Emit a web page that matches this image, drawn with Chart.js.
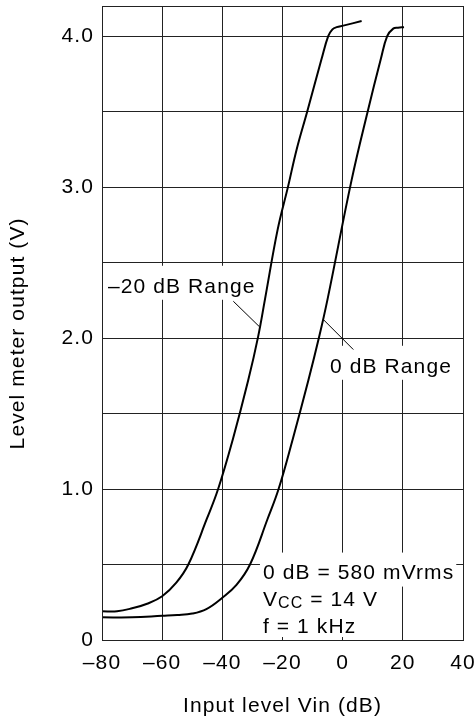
<!DOCTYPE html>
<html><head><meta charset="utf-8">
<script src="https://cdn.jsdelivr.net/npm/chart.js@4"></script>
<style>html,body{margin:0;padding:0;background:#fff;}</style>
</head><body>
<canvas id="c" width="475" height="722"></canvas>
<script>
// ---- data ----
const range20dB_x = [-80,-75,-70,-65,-60,-55.3,-51.3,-45.2,-41.4,-36.5,-31.4,-28.1,-25.8,-21.6,-18.2,-15.3,-11.8,-7.0,-4.8,-3.4,-2.0,0.2,6.3];
const range20dB_v = [0.19,0.19,0.21,0.24,0.29,0.38,0.50,0.80,1.00,1.33,1.72,2.01,2.26,2.72,3.00,3.25,3.50,3.85,4.00,4.045,4.06,4.07,4.10];
const range0dB_x  = [-80,-70,-60,-55,-50,-45.3,-40,-35.3,-30.8,-25.0,-21.3,-16.6,-11.4,-7.8,-5.0,3.0,8.3,12.7,14.8,16.8,18.4,20.4];
const range0dB_v  = [0.15,0.15,0.16,0.165,0.175,0.205,0.28,0.365,0.50,0.80,1.00,1.33,1.72,2.01,2.26,3.05,3.50,3.85,4.00,4.05,4.056,4.06];
const xTicks = [-80,-60,-40,-20,0,20,40];
const xTickLabels = ['–80','–60','–40','–20','0','20','40'];
const yTicks = [0,0.5,1.0,1.5,2.0,2.5,3.0,3.5,4.0];
const yTickLabels = ['0','','1.0','','2.0','','3.0','','4.0'];
const xTitle = 'Input level Vin (dB)';
const yTitle = 'Level meter output (V)   ';

const FAMILY = '"Liberation Sans", Arial, Helvetica, sans-serif';
const FS = 21;
const SPACING = '1.1px';
Chart.defaults.font.family = FAMILY;
Chart.defaults.font.size = FS;
Chart.defaults.color = '#000';

const labels = [
  {parts:[['–20 dB Range',FS,0]], x:-78.0, y:2.34},
  {parts:[['0 dB Range',FS,0]], x:-4.2, y:1.81},
  {parts:[['0 dB = 580 mVrms',FS,0]], x:-26.5, y:0.44},
  {parts:[['V',FS,0],['CC',16,4],[' = 14 V',FS,0]], x:-26.5, y:0.265},
  {parts:[['f = 1 kHz',FS,0]], x:-26.5, y:0.086, bottom:10}
];
const leaders = [[-36.35,2.244,-27.8,2.078],[-6.43,2.123,3.55,1.924]];

function setSpacing(chart){ try{ chart.ctx.letterSpacing = SPACING; }catch(e){} }
function measure(ctx, parts){
  let w=0; for(const p of parts){ ctx.font = p[1]+'px '+FAMILY; w += ctx.measureText(p[0]).width; } return w;
}
const annot = {
  id:'annot',
  beforeUpdate(chart){ setSpacing(chart); },
  beforeDraw(chart){ setSpacing(chart); },
  beforeDatasetsDraw(chart){
    const {ctx, scales:{x,y}} = chart;
    ctx.save();
    ctx.fillStyle = '#fff';
    for(const l of labels){
      const px = x.getPixelForValue(l.x), py = y.getPixelForValue(l.y);
      const w = measure(ctx, l.parts);
      const b = l.bottom || 13;
      ctx.fillRect(px-3, py-21, w+5, 21+b);
    }
    ctx.restore();
  },
  afterDatasetsDraw(chart){
    const {ctx, scales:{x,y}, chartArea:a} = chart;
    ctx.save();
    ctx.strokeStyle = '#000'; ctx.lineWidth = 1;
    for(const d of leaders){
      ctx.beginPath();
      ctx.moveTo(x.getPixelForValue(d[0]), y.getPixelForValue(d[1]));
      ctx.lineTo(x.getPixelForValue(d[2]), y.getPixelForValue(d[3]));
      ctx.stroke();
    }
    ctx.fillStyle = '#000'; ctx.textBaseline = 'middle'; ctx.textAlign = 'left';
    for(const l of labels){
      let px = x.getPixelForValue(l.x); const py = y.getPixelForValue(l.y);
      for(const p of l.parts){
        ctx.font = p[1]+'px '+FAMILY;
        ctx.fillText(p[0], px, py + p[2]);
        px += ctx.measureText(p[0]).width;
      }
    }
    ctx.strokeStyle = '#222'; ctx.lineWidth = 1;
    ctx.strokeRect(Math.round(a.left)+0.5, Math.round(a.top)+0.5, Math.round(a.right-a.left), Math.round(a.bottom-a.top));
    ctx.restore();
  }
};

new Chart(document.getElementById('c'), {
  type:'line',
  data:{ datasets:[
    { label:'–20 dB Range', data: range20dB_x.map((v,i)=>({x:v,y:range20dB_v[i]})),
      borderColor:'#000', borderWidth:2, pointRadius:0, tension:0.4, fill:false },
    { label:'0 dB Range', data: range0dB_x.map((v,i)=>({x:v,y:range0dB_v[i]})),
      borderColor:'#000', borderWidth:2, pointRadius:0, tension:0.4, fill:false }
  ]},
  options:{
    responsive:false, animation:false, devicePixelRatio:1,
    layout:{ padding:{left:0,right:12,top:6,bottom:0} },
    plugins:{ legend:{display:false}, tooltip:{enabled:false} },
    scales:{
      x:{ type:'linear', min:-80, max:40,
        afterBuildTicks(s){ s.ticks = xTicks.map(v=>({value:v})); },
        afterFit(s){ s.height = 82; s.paddingLeft = 0; s.paddingRight = 0; },
        ticks:{ padding:11, maxRotation:0, autoSkip:false, callback:(v,i)=>xTickLabels[i] },
        grid:{ color:'#222', lineWidth:1, drawTicks:false },
        border:{ display:false },
        title:{ display:true, text:xTitle, padding:{top:0,bottom:3} }
      },
      y:{ type:'linear', min:0, max:4.2,
        afterBuildTicks(s){ s.ticks = yTicks.map(v=>({value:v})); },
        afterFit(s){ s.width = 102; s.paddingTop = 0; s.paddingBottom = 0; },
        ticks:{ padding:8, autoSkip:false, callback:(v,i)=>yTickLabels[i] },
        grid:{ color:'#222', lineWidth:1, drawTicks:false },
        border:{ display:false },
        title:{ display:true, text:yTitle, padding:{top:6,bottom:0} }
      }
    }
  },
  plugins:[annot]
});
</script>
</body></html>
